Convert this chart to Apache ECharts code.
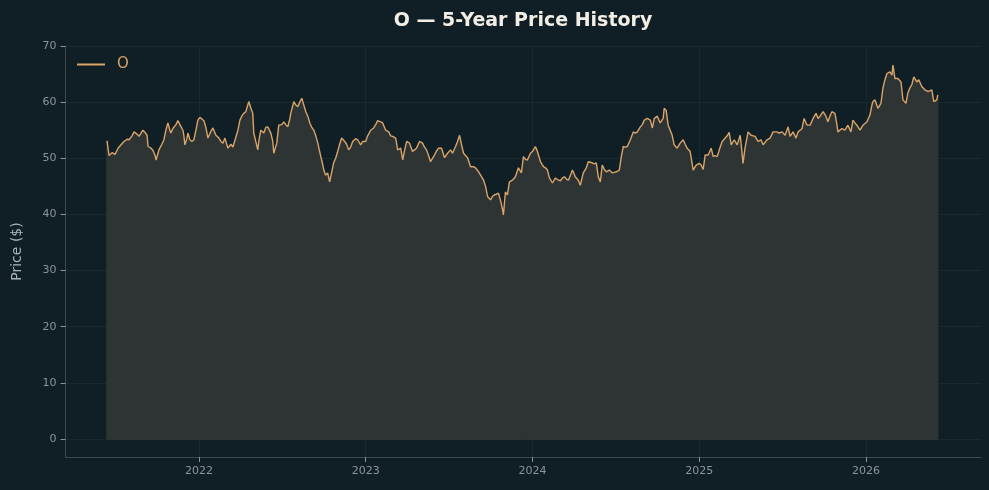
<!DOCTYPE html>
<html>
<head>
<meta charset="utf-8">
<script src="https://cdn.jsdelivr.net/npm/echarts@6/dist/echarts.min.js"></script>
<style>
html,body{margin:0;padding:0;background:#101f25;}
#chart{width:989px;height:490px;}
</style>
</head>
<body>
<div id="chart"></div>
<script>
const title = "O \u2014 5-Year Price History";
const seriesName = "O";
const yAxisName = "Price ($)";
const yTicks = [0, 10, 20, 30, 40, 50, 60, 70];
const xTicks = [2022, 2023, 2024, 2025, 2026];

// decimal-year dates
const dates = [
2021.449,2021.461,2021.479,2021.497,2021.515,2021.533,2021.551,2021.569,2021.581,2021.599,
2021.611,2021.629,2021.641,2021.653,2021.665,2021.677,2021.689,2021.695,2021.713,2021.725,
2021.737,2021.743,2021.754,2021.760,2021.778,2021.790,2021.802,2021.814,2021.826,2021.832,
2021.844,2021.850,2021.862,2021.874,2021.886,2021.904,2021.910,2021.916,2021.928,2021.934,
2021.946,2021.958,2021.970,2021.982,2021.994,2022.006,2022.018,2022.030,2022.042,2022.054,
2022.072,2022.084,2022.102,2022.120,2022.132,2022.144,2022.156,2022.174,2022.192,2022.204,
2022.222,2022.234,2022.246,2022.257,2022.269,2022.281,2022.299,2022.311,2022.323,2022.329,
2022.341,2022.353,2022.359,2022.371,2022.389,2022.401,2022.413,2022.431,2022.443,2022.449,
2022.467,2022.479,2022.497,2022.509,2022.521,2022.533,2022.545,2022.551,2022.569,2022.581,
2022.593,2022.605,2022.617,2022.629,2022.641,2022.653,2022.665,2022.677,2022.689,2022.701,
2022.713,2022.731,2022.743,2022.749,2022.760,2022.772,2022.784,2022.796,2022.808,2022.820,
2022.832,2022.844,2022.856,2022.874,2022.886,2022.898,2022.910,2022.922,2022.940,2022.952,
2022.970,2022.982,2023.000,2023.012,2023.030,2023.048,2023.060,2023.072,2023.090,2023.102,
2023.120,2023.138,2023.150,2023.162,2023.180,2023.192,2023.210,2023.222,2023.234,2023.246,
2023.263,2023.281,2023.293,2023.305,2023.323,2023.341,2023.353,2023.365,2023.377,2023.389,
2023.401,2023.413,2023.425,2023.437,2023.455,2023.473,2023.491,2023.509,2023.521,2023.539,
2023.551,2023.563,2023.575,2023.587,2023.599,2023.611,2023.629,2023.647,2023.659,2023.677,
2023.689,2023.707,2023.719,2023.731,2023.749,2023.760,2023.772,2023.784,2023.796,2023.808,
2023.820,2023.826,2023.838,2023.850,2023.862,2023.880,2023.898,2023.916,2023.934,2023.946,
2023.958,2023.970,2023.988,2024.000,2024.018,2024.030,2024.048,2024.066,2024.078,2024.090,
2024.102,2024.120,2024.138,2024.156,2024.168,2024.180,2024.192,2024.204,2024.216,2024.228,
2024.240,2024.257,2024.275,2024.287,2024.305,2024.323,2024.335,2024.347,2024.359,2024.371,
2024.383,2024.395,2024.407,2024.419,2024.431,2024.443,2024.461,2024.479,2024.491,2024.503,
2024.521,2024.533,2024.545,2024.557,2024.569,2024.587,2024.605,2024.617,2024.629,2024.647,
2024.659,2024.671,2024.689,2024.707,2024.719,2024.731,2024.749,2024.766,2024.784,2024.790,
2024.802,2024.808,2024.814,2024.826,2024.838,2024.850,2024.868,2024.886,2024.904,2024.916,
2024.928,2024.946,2024.964,2024.982,2025.000,2025.012,2025.024,2025.036,2025.054,2025.072,
2025.084,2025.096,2025.108,2025.126,2025.138,2025.156,2025.168,2025.180,2025.192,2025.210,
2025.228,2025.246,2025.257,2025.263,2025.275,2025.293,2025.311,2025.335,2025.353,2025.371,
2025.383,2025.407,2025.425,2025.443,2025.455,2025.467,2025.479,2025.497,2025.515,2025.533,
2025.545,2025.563,2025.581,2025.593,2025.605,2025.617,2025.629,2025.647,2025.665,2025.683,
2025.701,2025.713,2025.725,2025.743,2025.760,2025.772,2025.784,2025.796,2025.814,2025.826,
2025.832,2025.856,2025.874,2025.892,2025.910,2025.922,2025.934,2025.946,2025.964,2025.982,
2026.006,2026.024,2026.036,2026.042,2026.054,2026.072,2026.090,2026.102,2026.114,2026.126,
2026.144,2026.156,2026.162,2026.174,2026.192,2026.210,2026.222,2026.240,2026.251,2026.263,
2026.275,2026.287,2026.305,2026.317,2026.335,2026.353,2026.371,2026.383,2026.395,2026.407,
2026.425,2026.431
];

const prices = [
53.1,50.5,51.0,50.7,51.8,52.4,53.0,53.4,53.3,54.0,
54.7,54.3,53.9,54.5,55.0,54.6,54.1,52.1,51.8,51.4,
50.5,49.7,50.8,51.5,52.5,53.3,55.0,56.3,55.0,54.5,
55.3,55.0,56.0,56.7,56.0,55.0,54.0,52.4,53.5,54.5,
53.3,53.0,53.3,55.0,56.8,57.3,57.0,56.7,55.5,53.6,
54.8,55.4,54.1,53.6,53.0,52.7,53.6,51.8,52.5,52.0,
53.8,55.0,56.8,57.5,58.0,58.3,60.1,59.0,58.0,54.5,
53.0,51.5,53.0,55.0,54.5,55.5,55.6,54.5,53.0,50.9,
52.7,55.9,56.0,56.5,56.0,55.6,57.0,58.0,60.1,59.5,
59.2,60.0,60.7,59.5,58.3,57.5,56.3,55.5,55.0,54.0,
52.7,50.3,48.8,47.9,47.0,47.4,45.8,47.5,49.2,50.0,
51.2,52.5,53.6,53.0,52.5,51.5,52.0,53.0,53.5,53.3,
52.4,53.0,53.0,54.0,55.0,55.4,56.0,56.7,56.5,56.3,
55.0,54.7,54.0,53.9,53.6,51.5,51.8,49.7,51.5,53.0,
52.7,51.2,51.5,51.8,53.0,52.7,52.0,51.5,50.5,49.4,
50.0,50.6,51.3,51.8,51.8,50.1,50.9,51.5,50.9,52.1,
53.0,54.1,52.4,50.9,50.5,50.1,48.5,48.5,48.3,47.6,
47.0,46.1,45.0,43.2,42.6,43.2,43.5,43.6,43.8,42.6,
41.0,39.9,44.0,43.5,45.8,46.1,46.7,48.3,47.4,50.3,
49.8,49.7,50.9,51.2,52.1,51.2,49.4,48.5,48.3,47.9,
46.5,45.6,46.5,46.1,46.0,46.5,46.7,46.3,46.1,47.0,
47.9,46.7,46.1,45.2,47.4,48.3,49.4,49.3,49.2,49.0,
49.2,46.7,45.8,48.8,48.0,47.6,47.9,47.4,47.5,47.6,
47.9,50.3,52.1,52.0,52.1,53.3,54.7,54.5,54.7,55.6,
56.0,56.8,57.1,56.8,55.4,57.1,57.5,56.3,57.1,58.9,
58.5,58.3,55.9,55.0,54.1,52.4,51.8,52.7,53.3,52.5,
51.8,51.2,47.9,48.8,49.1,48.8,48.0,50.6,50.6,51.8,
50.3,50.5,50.3,52.0,53.0,53.6,54.0,54.6,52.4,53.3,
52.4,54.1,51.0,49.1,51.8,54.7,54.1,53.9,53.0,53.3,
52.4,53.3,53.6,54.7,54.7,54.7,54.5,54.7,54.1,55.6,
53.9,54.7,53.6,54.7,55.0,55.3,57.1,55.9,55.9,57.1,
58.0,57.1,57.5,58.3,57.5,56.5,57.5,58.3,58.0,56.0,
54.7,55.3,55.0,55.9,54.7,56.8,56.3,55.9,55.0,55.9,
56.5,57.7,59.5,60.1,60.4,58.9,59.8,62.5,64.0,65.1,
65.4,64.8,66.6,64.2,64.2,63.6,60.4,59.8,61.6,62.5,
63.1,64.5,63.6,64.0,62.8,62.2,61.9,62.0,62.2,60.1,
60.4,61.3
];

const seriesData = dates.map((d, i) => [d, prices[i]]);
const last = dates.length - 1;
// outline of the filled region (edges of the area, from data end points down to 0)
const outlineData = [
  [dates[0], prices[0]], [dates[0], 0], [dates[last], 0], [dates[last], prices[last]]
];

const chart = echarts.init(document.getElementById('chart'), null, {renderer: 'canvas'});
const font = "'DejaVu Sans', sans-serif";
const tickColor = '#8b9598';
const spine = '#3c4a4f';
const gridC = '#182a2f';
const lineColor = '#d9a46a';

chart.setOption({
  backgroundColor: '#101f25',
  animation: false,
  title: {
    text: title,
    left: 518,
    textAlign: 'center',
    top: 7,
    textStyle: {color: '#f2eee6', fontSize: 19, fontWeight: 'bold', fontFamily: font}
  },
  legend: {
    data: [{name: seriesName, icon: 'rect'}],
    left: 72,
    top: 52,
    itemWidth: 28,
    itemHeight: 2,
    itemGap: 10,
    textStyle: {color: lineColor, fontSize: 15, fontFamily: font, padding: [0, 0, 0, 7]}
  },
  grid: {left: 65.5, right: 8, top: 46, bottom: 33, containLabel: false, outerBoundsMode: 'none'},
  xAxis: {
    type: 'value',
    min: 2021.2,
    max: 2026.69,
    axisLine: {show: true, onZero: false, lineStyle: {color: spine, width: 1}},
    axisTick: {show: true, customValues: xTicks, length: 5, lineStyle: {color: tickColor}},
    axisLabel: {customValues: xTicks, color: tickColor, fontSize: 11, fontFamily: font, margin: 9,
      formatter: v => String(Math.round(v))},
    splitLine: {show: true, lineStyle: {color: gridC, width: 1}}
  },
  yAxis: {
    type: 'value',
    min: -3.2,
    max: 70,
    name: yAxisName,
    nameLocation: 'middle',
    nameGap: 41,
    nameTextStyle: {color: '#a9b3b6', fontSize: 14, fontFamily: font},
    axisLine: {show: true, onZero: false, lineStyle: {color: spine, width: 1}},
    axisTick: {show: true, customValues: yTicks, length: 5, lineStyle: {color: tickColor}},
    axisLabel: {customValues: yTicks, color: tickColor, fontSize: 11, fontFamily: font, margin: 9},
    splitLine: {show: true, lineStyle: {color: gridC, width: 1}}
  },
  series: [{
    name: seriesName,
    type: 'line',
    data: seriesData,
    showSymbol: false,
    symbol: 'none',
    lineStyle: {color: lineColor, width: 1.4},
    itemStyle: {color: lineColor},
    areaStyle: {color: '#2e3333', opacity: 1, origin: 0},
    z: 3
  }, {
    name: 'outline',
    type: 'line',
    data: outlineData,
    showSymbol: false,
    symbol: 'none',
    silent: true,
    lineStyle: {color: '#3b4039', width: 1},
    z: 2
  }]
});
</script>
</body>
</html>
